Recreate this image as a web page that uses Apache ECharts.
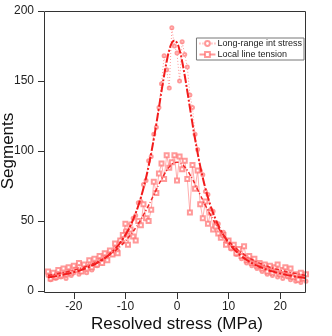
<!DOCTYPE html>
<html>
<head>
<meta charset="utf-8">
<script src="https://cdn.jsdelivr.net/npm/echarts@6/dist/echarts.min.js"></script>
<style>
  html, body { margin: 0; padding: 0; background: #fff; }
  #chart { width: 332px; height: 336px; }
</style>
</head>
<body>
<div id="chart"></div>
<script>
// resolved stress (MPa), 0.5 MPa bins
var stress = [
  -25,-24.5,-24,-23.5,-23,-22.5,-22,-21.5,-21,-20.5,
  -20,-19.5,-19,-18.5,-18,-17.5,-17,-16.5,-16,-15.5,
  -15,-14.5,-14,-13.5,-13,-12.5,-12,-11.5,-11,-10.5,
  -10,-9.5,-9,-8.5,-8,-7.5,-7,-6.5,-6,-5.5,
  -5,-4.5,-4,-3.5,-3,-2.5,-2,-1.5,-1,-0.5,
  0,0.5,1,1.5,2,2.5,3,3.5,4,4.5,
  5,5.5,6,6.5,7,7.5,8,8.5,9,9.5,
  10,10.5,11,11.5,12,12.5,13,13.5,14,14.5,
  15,15.5,16,16.5,17,17.5,18,18.5,19,19.5,
  20,20.5,21,21.5,22,22.5,23,23.5,24,24.5,
  25
];

// Long-range int stress (circles)
var longRange = [
  11,8,12,9,13,10,12,9,14,11,
  13,16,12,14,17,13,18,15,20,18,
  22,20,24,23,27,26,31,29,36,35,
  43,40,48,52,54,63,64,76,79,93,
  96,112,117,131,148,168,158,145,188,175,
  170,150,178,169,160,140,131,112,101,86,
  83,71,69,58,57,49,48,41,42,35,
  36,30,31,26,28,23,25,20,22,18,
  20,16,18,14,16,12,15,11,14,10,
  13,9,12,10,8,11,7,10,6,9,
  7
];

// Local line tension (squares)
var localLine = [
  14,9,13,10,15,11,16,12,17,13,
  18,15,20,14,19,16,22,17,23,19,
  25,20,27,22,29,26,34,27,36,40,
  48,33,44,39,36,50,47,62,52,50,
  58,78,70,84,91,80,97,88,92,97,
  79,96,87,93,80,56,90,73,86,62,
  52,64,48,56,44,46,41,38,40,33,
  36,31,33,27,30,25,32,22,25,20,
  23,18,20,16,19,14,18,13,17,19,
  12,15,17,11,16,10,12,8,13,9,
  12
];

// fitted curves
var longRangeFit = [
  9.8,10.0,10.3,10.6,11.0,11.3,11.7,12.1,12.5,13.0,
  13.5,14.0,14.5,15.1,15.8,16.5,17.3,18.1,19.0,20.0,
  21.0,22.2,23.5,24.9,26.4,28.2,30.0,32.1,34.5,37.1,
  40.0,43.2,46.9,51.0,55.7,60.9,66.8,73.4,80.9,89.2,
  98.5,108.6,119.5,131.0,142.7,153.9,163.9,172.0,177.2,179.0,
  177.2,172.0,163.9,153.9,142.7,131.0,119.5,108.6,98.5,89.2,
  80.9,73.4,66.8,60.9,55.7,51.0,46.9,43.2,40.0,37.1,
  34.5,32.1,30.0,28.2,26.4,24.9,23.5,22.2,21.0,20.0,
  19.0,18.1,17.3,16.5,15.8,15.1,14.5,14.0,13.5,13.0,
  12.5,12.1,11.7,11.3,11.0,10.6,10.3,10.0,9.8,9.5,
  9.3
];

var localLineFit = [
  11.3,11.5,11.8,12.1,12.5,12.8,13.2,13.5,14.0,14.4,
  14.8,15.3,15.9,16.4,17.0,17.7,18.3,19.1,19.9,20.7,
  21.6,22.6,23.6,24.8,26.0,27.3,28.7,30.3,31.9,33.7,
  35.7,37.8,40.1,42.5,45.2,48.0,51.0,54.3,57.7,61.2,
  64.9,68.7,72.5,76.3,79.9,83.2,86.2,88.6,90.5,91.6,
  92.0,
  91.6,90.5,88.6,86.2,83.2,79.9,76.3,72.5,68.7,64.9,
  61.2,57.7,54.3,51.0,48.0,45.2,42.5,40.1,37.8,35.7,
  33.7,31.9,30.3,28.7,27.3,26.0,24.8,23.6,22.6,21.6,
  20.7,19.9,19.1,18.3,17.7,17.0,16.4,15.9,15.3,14.8,
  14.4,14.0,13.5,13.2,12.8,12.5,12.1,11.8,11.5,11.3
];

var xTicks = [-20, -10, 0, 10, 20];

function pairs(ys) {
  var out = [];
  for (var i = 0; i < stress.length; i++) out.push([stress[i], ys[i]]);
  return out;
}

var font = 'Liberation Sans, Arial, Helvetica, sans-serif';
var axisCol = '#333';
var markCol = 'rgba(255,110,110,0.7)';

var chart = echarts.init(document.getElementById('chart'), null, {renderer: 'canvas'});

var option = {
  animation: false,
  backgroundColor: '#fff',
  grid: { left: 48, right: 26, top: 11, bottom: 45, outerBoundsMode: 'none' },
  legend: {
    orient: 'vertical',
    right: 28,
    top: 38,
    itemWidth: 16,
    itemHeight: 6,
    itemGap: 2,
    padding: [1, 2, 1, 2],
    backgroundColor: '#fff',
    borderColor: '#777',
    borderWidth: 1,
    borderRadius: 0,
    textStyle: { fontFamily: font, fontSize: 9, color: '#222', padding: [0, 0, 0, -3] },
    data: ['Long-range int stress', 'Local line tension']
  },
  xAxis: {
    type: 'value',
    min: -25,
    max: 25,
    offset: 2,
    name: 'Resolved stress (MPa)',
    nameLocation: 'middle',
    nameGap: 23,
    nameMoveOverlap: false,
    nameTextStyle: { fontFamily: font, fontSize: 17, color: '#111' },
    axisLine: { show: false, onZero: false },
    axisTick: { show: true, inside: false, length: 6, customValues: xTicks,
                lineStyle: { color: axisCol } },
    axisLabel: { customValues: xTicks, margin: 8, fontFamily: font, fontSize: 12, color: '#222' },
    splitLine: { show: false }
  },
  yAxis: {
    type: 'value',
    min: 0,
    max: 200,
    interval: 50,
    offset: 4,
    name: 'Segments',
    nameLocation: 'middle',
    nameGap: 27,
    nameMoveOverlap: false,
    nameTextStyle: { fontFamily: font, fontSize: 17, color: '#111' },
    axisLine: { show: false, onZero: false },
    axisTick: { show: true, inside: false, length: 6, lineStyle: { color: axisCol } },
    axisLabel: { margin: 10, fontFamily: font, fontSize: 12, color: '#222' },
    splitLine: { show: false }
  },
  graphic: [{
    type: 'rect',
    silent: true,
    z: 100,
    shape: { x: 44.5, y: 11.5, width: 261, height: 281 },
    style: { fill: 'none', stroke: axisCol, lineWidth: 1 }
  }],
  series: [
    {
      name: 'Long-range int stress',
      type: 'line',
      data: pairs(longRange),
      symbol: 'emptyCircle',
      symbolSize: 3,
      itemStyle: { color: markCol, borderWidth: 0.7 },
      lineStyle: { color: markCol, width: 1, type: [1, 2] },
      z: 2
    },
    {
      name: 'Local line tension',
      type: 'line',
      data: pairs(localLine),
      symbol: 'emptyRect',
      symbolSize: 4,
      itemStyle: { color: markCol, borderWidth: 0.7 },
      lineStyle: { color: markCol, width: 0.8 },
      z: 2
    },
    {
      name: 'fit long',
      type: 'line',
      data: pairs(longRangeFit),
      showSymbol: false,
      smooth: true,
      lineStyle: { color: '#f21c1c', width: 2, type: [9, 2, 2, 2] },
      z: 3
    },
    {
      name: 'fit local',
      type: 'line',
      data: pairs(localLineFit),
      showSymbol: false,
      smooth: true,
      lineStyle: { color: '#f22828', width: 1.5, type: [4, 2, 1, 2] },
      z: 3
    }
  ]
};

chart.setOption(option);
</script>
</body>
</html>
